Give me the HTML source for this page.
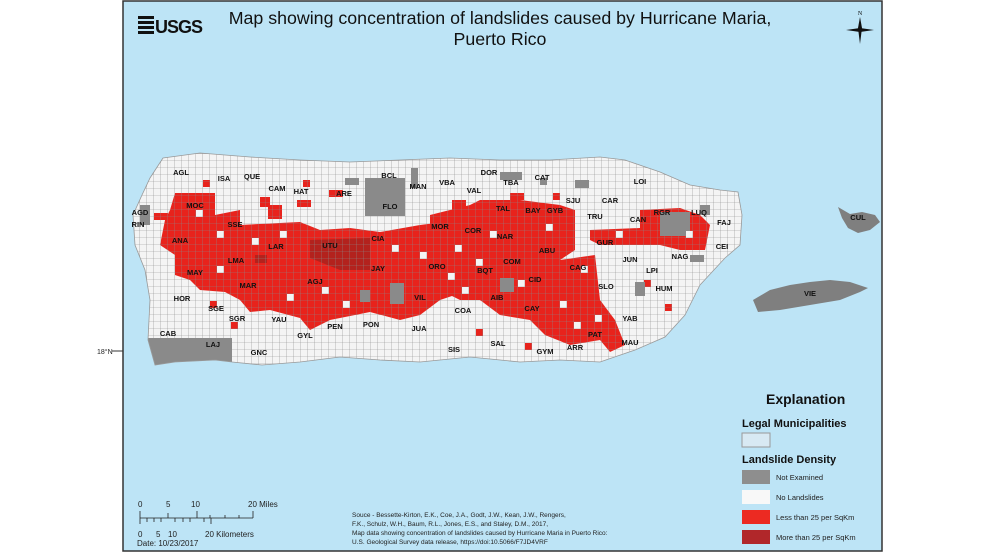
<!DOCTYPE html>
<html><head><meta charset="utf-8"><style>
body{margin:0;width:986px;height:554px;background:#fff;overflow:hidden;font-family:"Liberation Sans",sans-serif}
</style></head><body>
<svg width="986" height="554" xmlns="http://www.w3.org/2000/svg" style="position:absolute;left:0;top:0">
<defs>
<pattern id="g" width="7" height="7" patternUnits="userSpaceOnUse" x="0" y="0">
<path d="M7 0V7H0" fill="none" stroke="#8a8a8a" stroke-width="0.6"/>
</pattern>
<clipPath id="isl"><path id="ip" d="M163,158 L200,153 L250,157 L300,160 L350,162 L400,160 L450,158 L500,160 L550,160 L600,157 L625,160 L660,172 L690,185 L720,190 L738,192 L742,215 L740,245 L725,258 L700,285 L685,315 L665,337 L635,350 L600,362 L560,360 L520,362 L470,357 L420,362 L380,360 L340,357 L300,362 L262,365 L232,362 L215,360 L175,362 L155,365 L148,340 L150,300 L145,270 L135,245 L133,215 L142,195 L150,178 Z"/></clipPath>
</defs>
<rect x="123" y="1" width="759" height="550" fill="#bde4f6" stroke="#333" stroke-width="1.5"/>
<line x1="112" y1="351" x2="123" y2="351" stroke="#333"/>
<text x="97" y="354" font-size="7" fill="#222">18°N</text>
<g clip-path="url(#isl)">
<rect x="120" y="140" width="640" height="240" fill="#f4f4f4"/>
<path d="M175,193 L215,193 L215,215 L240,210 L240,225 L300,222 L320,230 L350,228 L380,232 L420,225 L460,220 L480,225 L480,270 L470,290 L440,300 L420,315 L400,320 L370,312 L330,320 L310,330 L300,318 L270,310 L250,312 L240,300 L225,292 L200,290 L190,280 L175,275 L175,255 L160,245 L165,220 L170,210 Z" fill="#e8231c"/>
<path d="M430,215 L470,205 L480,200 L520,200 L560,205 L575,210 L575,250 L560,260 L595,255 L600,300 L615,320 L625,345 L610,352 L600,340 L570,345 L545,335 L530,320 L500,315 L480,300 L460,300 L440,290 L430,280 Z" fill="#e8231c"/>
<path d="M590,230 L640,228 L640,210 L680,208 L700,215 L710,225 L705,250 L680,250 L660,245 L630,245 L600,245 L590,240 Z" fill="#e8231c"/>
<g fill="#e8231c">
<rect x="268" y="205" width="14" height="14"/><rect x="297" y="200" width="14" height="7"/>
<rect x="260" y="197" width="10" height="10"/><rect x="203" y="180" width="7" height="7"/>
<rect x="303" y="180" width="7" height="7"/><rect x="329" y="190" width="14" height="7"/>
<rect x="452" y="200" width="14" height="10"/><rect x="210" y="301" width="7" height="7"/>
<rect x="231" y="322" width="7" height="7"/><rect x="665" y="304" width="7" height="7"/>
<rect x="525" y="343" width="7" height="7"/><rect x="476" y="329" width="7" height="7"/>
<rect x="644" y="280" width="7" height="7"/><rect x="154" y="213" width="14" height="7"/>
<rect x="553" y="193" width="7" height="7"/><rect x="510" y="193" width="14" height="7"/>
</g>
<path d="M310,240 L370,238 L370,270 L340,270 L310,258 Z" fill="#b3221d"/>
<rect x="255" y="255" width="12" height="8" fill="#b3221d"/>
<g fill="#8a8a8a">
<rect x="365" y="178" width="40" height="38"/><rect x="345" y="178" width="14" height="7"/>
<rect x="411" y="168" width="7" height="20"/><rect x="500" y="172" width="22" height="8"/>
<rect x="575" y="180" width="14" height="8"/><rect x="660" y="212" width="30" height="24"/>
<rect x="140" y="205" width="10" height="20"/><rect x="390" y="283" width="14" height="21"/>
<rect x="360" y="290" width="10" height="12"/><rect x="500" y="278" width="14" height="14"/>
<rect x="700" y="205" width="10" height="10"/><rect x="148" y="338" width="84" height="30"/>
<rect x="635" y="282" width="10" height="14"/><rect x="540" y="178" width="7" height="7"/>
<rect x="690" y="255" width="14" height="7"/>
</g>
<g fill="#f4f4f4">
<rect x="196" y="210" width="7" height="7"/><rect x="217" y="231" width="7" height="7"/><rect x="252" y="238" width="7" height="7"/><rect x="280" y="231" width="7" height="7"/><rect x="217" y="266" width="7" height="7"/><rect x="287" y="294" width="7" height="7"/><rect x="322" y="287" width="7" height="7"/><rect x="343" y="301" width="7" height="7"/><rect x="455" y="245" width="7" height="7"/><rect x="476" y="259" width="7" height="7"/><rect x="546" y="224" width="7" height="7"/><rect x="518" y="280" width="7" height="7"/><rect x="560" y="301" width="7" height="7"/><rect x="581" y="266" width="7" height="7"/><rect x="462" y="287" width="7" height="7"/><rect x="616" y="231" width="7" height="7"/><rect x="686" y="231" width="7" height="7"/><rect x="490" y="231" width="7" height="7"/><rect x="420" y="252" width="7" height="7"/><rect x="392" y="245" width="7" height="7"/><rect x="448" y="273" width="7" height="7"/><rect x="574" y="322" width="7" height="7"/><rect x="595" y="315" width="7" height="7"/>
</g>
<rect x="120" y="140" width="640" height="240" fill="url(#g)"/>
</g>
<use href="#ip" fill="none" stroke="#999" stroke-width="0.8"/>
<path d="M753,300 L770,290 L790,285 L810,282 L830,280 L850,282 L868,288 L860,292 L840,300 L810,305 L780,310 L758,312 Z" fill="#7f7f7f"/>
<path d="M838,207 L850,214 L862,212 L875,215 L880,222 L870,230 L858,233 L848,228 L842,218 Z" fill="#7f7f7f"/>
<g font-size="7.5" font-weight="bold" fill="#111" text-anchor="middle">
<text x="181" y="175">AGL</text><text x="224" y="181">ISA</text><text x="252" y="179">QUE</text><text x="277" y="191">CAM</text><text x="301" y="194">HAT</text><text x="344" y="196">ARE</text><text x="389" y="178">BCL</text><text x="418" y="189">MAN</text><text x="447" y="185">VBA</text><text x="489" y="175">DOR</text><text x="511" y="185">TBA</text><text x="542" y="180">CAT</text><text x="474" y="193">VAL</text><text x="390" y="209">FLO</text><text x="140" y="215">AGD</text><text x="195" y="208">MOC</text><text x="138" y="227">RIN</text><text x="235" y="227">SSE</text><text x="503" y="211">TAL</text><text x="533" y="213">BAY</text><text x="555" y="213">GYB</text><text x="573" y="203">SJU</text><text x="610" y="203">CAR</text><text x="640" y="184">LOI</text><text x="595" y="219">TRU</text><text x="638" y="222">CAN</text><text x="662" y="215">RGR</text><text x="699" y="215">LUQ</text><text x="724" y="225">FAJ</text><text x="180" y="243">ANA</text><text x="276" y="249">LAR</text><text x="330" y="248">UTU</text><text x="378" y="241">CIA</text><text x="440" y="229">MOR</text><text x="473" y="233">COR</text><text x="505" y="239">NAR</text><text x="547" y="253">ABU</text><text x="605" y="245">GUR</text><text x="722" y="249">CEI</text><text x="680" y="259">NAG</text><text x="236" y="263">LMA</text><text x="195" y="275">MAY</text><text x="378" y="271">JAY</text><text x="437" y="269">ORO</text><text x="512" y="264">COM</text><text x="578" y="270">CAG</text><text x="630" y="262">JUN</text><text x="652" y="273">LPI</text><text x="485" y="273">BQT</text><text x="248" y="288">MAR</text><text x="315" y="284">AGJ</text><text x="535" y="282">CID</text><text x="606" y="289">SLO</text><text x="664" y="291">HUM</text><text x="182" y="301">HOR</text><text x="420" y="300">VIL</text><text x="497" y="300">AIB</text><text x="463" y="313">COA</text><text x="532" y="311">CAY</text><text x="630" y="321">YAB</text><text x="216" y="311">SGE</text><text x="237" y="321">SGR</text><text x="279" y="322">YAU</text><text x="335" y="329">PEN</text><text x="371" y="327">PON</text><text x="419" y="331">JUA</text><text x="305" y="338">GYL</text><text x="595" y="337">PAT</text><text x="630" y="345">MAU</text><text x="168" y="336">CAB</text><text x="213" y="347">LAJ</text><text x="259" y="355">GNC</text><text x="454" y="352">SIS</text><text x="498" y="346">SAL</text><text x="545" y="354">GYM</text><text x="575" y="350">ARR</text><text x="858" y="220">CUL</text><text x="810" y="296">VIE</text>
</g>
<g fill="#111"><rect x="138" y="16" width="16" height="3"/><rect x="138" y="21" width="16" height="3"/><rect x="138" y="26" width="16" height="3"/><rect x="138" y="31" width="16" height="3"/></g>
<text x="155" y="33" font-size="18" font-weight="bold" fill="#111" letter-spacing="-1">USGS</text>
<text x="500" y="24" font-size="17.8" text-anchor="middle" fill="#111">Map showing concentration of landslides caused by Hurricane Maria,</text>
<text x="500" y="45" font-size="17.8" text-anchor="middle" fill="#111">Puerto Rico</text>
<g fill="#111"><path d="M860,17 L862,28 L860,44 L858,28 Z"/><path d="M846,30 L860,28 L874,30 L860,32 Z"/></g>
<text x="860" y="15" font-size="6" text-anchor="middle" font-family="Liberation Serif">N</text>
<text x="766" y="404" font-size="14" font-weight="bold" fill="#111">Explanation</text>
<text x="742" y="427" font-size="11" font-weight="bold" fill="#111">Legal Municipalities</text>
<rect x="742" y="433" width="28" height="14" fill="#d8e9f3" stroke="#999"/>
<text x="742" y="463" font-size="11" font-weight="bold" fill="#111">Landslide Density</text>
<rect x="742" y="470" width="28" height="14" fill="#8e8e8e"/>
<rect x="742" y="490" width="28" height="14" fill="#f8f8f8"/>
<rect x="742" y="510" width="28" height="14" fill="#ec2a22"/>
<rect x="742" y="530" width="28" height="14" fill="#b1272a"/>
<g font-size="7.5" fill="#222"><text x="776" y="480">Not Examined</text><text x="776" y="500">No Landslides</text><text x="776" y="520">Less than 25 per SqKm</text><text x="776" y="540">More than 25 per SqKm</text></g>
<g font-size="6.5" fill="#222"><text x="352" y="517">Souce - Bessette-Kirton, E.K., Coe, J.A., Godt, J.W., Kean, J.W., Rengers,</text><text x="352" y="526">F.K., Schulz, W.H., Baum, R.L., Jones, E.S., and Staley, D.M., 2017,</text><text x="352" y="535">Map data showing concentration of landslides caused by Hurricane Maria in Puerto Rico:</text><text x="352" y="544">U.S. Geological Survey data release, https://doi:10.5066/F7JD4VRF</text></g>
<g font-size="8" fill="#222"><text x="138" y="507">0</text><text x="166" y="507">5</text><text x="191" y="507">10</text><text x="248" y="507">20 Miles</text><text x="138" y="537">0</text><text x="156" y="537">5</text><text x="168" y="537">10</text><text x="205" y="537">20 Kilometers</text><text x="137" y="546">Date: 10/23/2017</text></g>
<g stroke="#222" stroke-width="0.8"><line x1="140" y1="518" x2="253" y2="518"/><line x1="140" y1="511" x2="140" y2="524"/><line x1="168" y1="513" x2="168" y2="518"/><line x1="197" y1="511" x2="197" y2="518"/><line x1="253" y1="511" x2="253" y2="518"/><line x1="210" y1="515" x2="210" y2="518"/><line x1="225" y1="515" x2="225" y2="518"/><line x1="239" y1="515" x2="239" y2="518"/><line x1="147" y1="518" x2="147" y2="522"/><line x1="154" y1="518" x2="154" y2="522"/><line x1="161" y1="518" x2="161" y2="522"/><line x1="175" y1="518" x2="175" y2="522"/><line x1="183" y1="518" x2="183" y2="522"/><line x1="190" y1="518" x2="190" y2="522"/><line x1="204" y1="518" x2="204" y2="522"/><line x1="211" y1="518" x2="211" y2="524"/></g>
</svg>
</body></html>
